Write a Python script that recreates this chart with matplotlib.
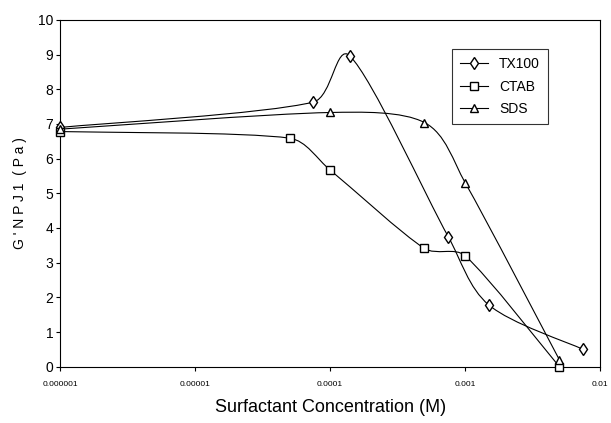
import numpy as np
import matplotlib
matplotlib.use('Agg')
import matplotlib.pyplot as plt
from matplotlib.path import Path
from matplotlib.patches import PathPatch
from matplotlib.lines import Line2D

plt.rcParams['font.family'] = ['Liberation Sans', 'DejaVu Sans']

# values
conc_tx100 = [1e-6, 7.5e-5, 1.4e-4, 7.5e-4, 1.5e-3, 7.5e-3]
g_tx100 = [6.9, 7.63, 8.96, 3.75, 1.78, 0.5]
conc_ctab = [1e-6, 5e-5, 1e-4, 5e-4, 1e-3, 5e-3]
g_ctab = [6.78, 6.59, 5.67, 3.41, 3.2, 0.0]
conc_sds = [1e-6, 1e-4, 5e-4, 1e-3, 5e-3]
g_sds = [6.85, 7.33, 7.04, 5.31, 0.2]

series_names = ['TX100', 'CTAB', 'SDS']
series_markers = ['d', 's', '^']
xtick_vals = [1e-6, 1e-5, 1e-4, 1e-3, 1e-2]
xtick_labels = ['0.000001', '0.00001', '0.0001', '0.001', '0.01']

# rough pixel size of one decade / one Pa, used only to shape the smoothing
XS, YS = 135.0, 34.7


def smooth_path(x, y):
    # Excel-like smoothed line: catmull-rom bezier arms (1/6),
    # each arm clamped to a part of its segment
    p = np.column_stack([np.log10(x) * XS, np.asarray(y, float) * YS])
    n = len(p)
    verts = [p[0]]
    codes = [Path.MOVETO]
    for i in range(n - 1):
        i0 = max(i - 1, 0)
        i3 = min(i + 2, n - 1)
        d = np.hypot(*(p[i + 1] - p[i]))
        a1 = (p[i + 1] - p[i0]) / 6
        a2 = (p[i3] - p[i]) / 6
        for a in (a1, a2):
            la = np.hypot(*a)
            if la > d / 3:
                a *= (d / 3) / la
        verts += [p[i] + a1, p[i + 1] - a2, p[i + 1]]
        codes += [Path.CURVE4] * 3
    v = np.array(verts)
    v = np.column_stack([10 ** (v[:, 0] / XS), v[:, 1] / YS])
    return Path(v, codes)


fig = plt.figure(figsize=(6.11, 4.23), dpi=100)
ax = fig.add_axes([0.0988, 0.133, 0.8832, 0.82])
ax.set_xscale('log')
ax.set_xlim(1e-6, 1e-2)
ax.set_ylim(0, 10)

data = [(conc_tx100, g_tx100), (conc_ctab, g_ctab), (conc_sds, g_sds)]
handles = []
for (xs, ys), name, mk in zip(data, series_names, series_markers):
    ax.add_patch(PathPatch(smooth_path(xs, ys), facecolor='none',
                           edgecolor='black', lw=0.8, clip_on=False))
    ax.plot(xs, ys, ls='none', marker=mk, mfc='white', mec='black',
            ms=6, mew=1.0, clip_on=False, zorder=3)
    handles.append(Line2D([], [], color='black', lw=0.8, marker=mk,
                          mfc='white', mec='black', ms=6, mew=1.0, label=name))

ax.set_xticks(xtick_vals)
ax.set_xticklabels(xtick_labels, fontsize=6)
ax.xaxis.set_minor_locator(matplotlib.ticker.NullLocator())
ax.set_yticks(range(0, 11))
ax.tick_params(axis='y', labelsize=10, length=3, width=0.8, pad=2)
ax.tick_params(axis='x', length=3, width=0.8, pad=7)
for s in ax.spines.values():
    s.set_linewidth(0.8)

ax.set_xlabel('Surfactant Concentration (M)', fontsize=13, labelpad=8)
ax.set_ylabel("G ' N P J 1  ( P a )", fontsize=10, labelpad=8)

leg = ax.legend(handles=handles, loc='upper right', bbox_to_anchor=(0.917, 0.936),
                fontsize=10, frameon=True, fancybox=False, edgecolor='black',
                handlelength=2.0, borderpad=0.6, labelspacing=0.6)
leg.get_frame().set_linewidth(0.8)

fig.savefig('out.png', dpi=100)
